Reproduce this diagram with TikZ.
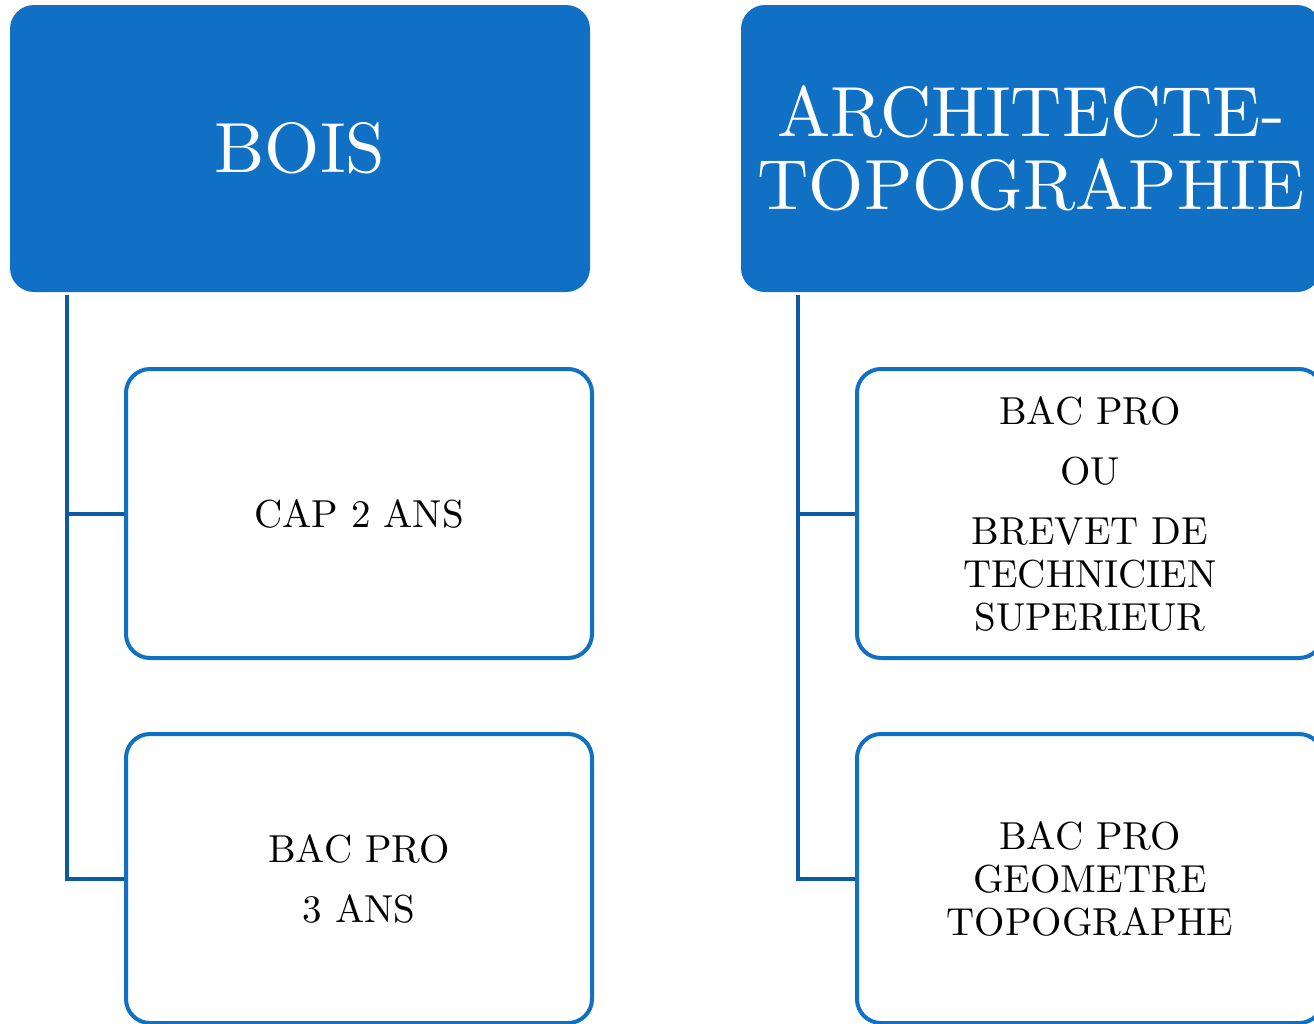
\documentclass[tikz,border=0pt]{standalone}
\usepackage{fontspec}
\setmainfont{lmroman10-regular.otf}
\usepackage{tikz}
\definecolor{boxblue}{RGB}{16,112,196}
\definecolor{linkblue}{RGB}{14,90,160}
\begin{document}
\begin{tikzpicture}[x=0.5pt,y=-0.5pt,
    topbox/.style={draw=none,fill=boxblue,rounded corners=12pt,text=white,
      minimum width=290pt,minimum height=143.5pt,align=center,inner sep=0pt,
      font=\fontsize{35.5}{36.5}\selectfont},
    subbox/.style={draw=boxblue,line width=2pt,fill=white,rounded corners=12pt,
      minimum width=233pt,minimum height=144.5pt,align=center,inner sep=0pt,
      font=\fontsize{19.5}{21.5}\selectfont},
    link/.style={draw=linkblue,line width=2pt}]
    % Frame of the page:
    \useasboundingbox (0,0) rectangle (1314,1024);

    % Left column
    \node [topbox] (bois) at (300,148.5) {BOIS};
    \node [subbox] (cap) at (359,513.5) {CAP 2 ANS};
    \node [subbox] (bacbois) at (359,878.5) {BAC PRO\\[8.5pt]3 ANS};

    % Right column
    \node [topbox] (archi) at (1031,148.5) {ARCHITECTE-\\TOPOGRAPHIE};
    \node [subbox] (bts) at (1090,513.5)
      {BAC PRO\\[8.5pt]OU\\[8.5pt]BREVET DE\\TECHNICIEN\\SUPERIEUR};
    \node [subbox] (geo) at (1090,878.5) {BAC PRO\\GEOMETRE\\TOPOGRAPHE};

    % Connectors:
    \coordinate (trunkL) at (67,295);
    \coordinate (trunkR) at (798,295);
    \draw [link] (trunkL) |- (bacbois.west);
    \draw [link] (trunkL |- cap.west) -- (cap.west);
    \draw [link] (trunkR) |- (geo.west);
    \draw [link] (trunkR |- bts.west) -- (bts.west);
\end{tikzpicture}
\end{document}
